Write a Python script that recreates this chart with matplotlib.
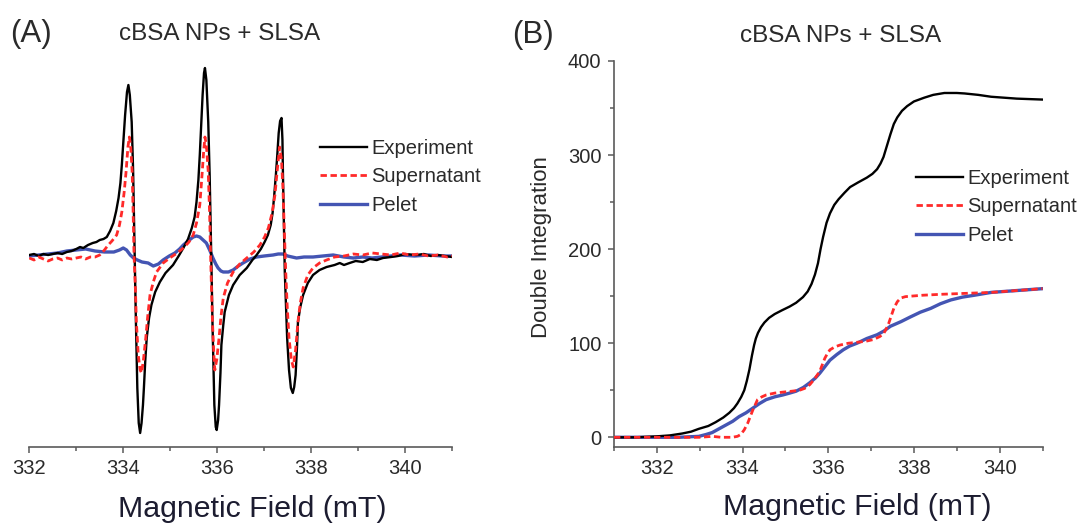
import matplotlib
matplotlib.use("Agg")
import matplotlib.pyplot as plt
from matplotlib.ticker import MultipleLocator

plt.rcParams['font.family'] = ['Liberation Sans', 'DejaVu Sans']

# ---------------- Panel A: EPR spectra (arbitrary units) ----------------
a_exp_x = [332.00, 332.10, 332.20, 332.30, 332.40, 332.50, 332.60, 332.70, 332.80, 332.90,
           333.00, 333.08, 333.15, 333.25, 333.35, 333.43, 333.50, 333.58, 333.65, 333.72,
           333.79, 333.85, 333.90, 333.94, 333.97, 334.01, 334.04, 334.08, 334.11, 334.14,
           334.18, 334.21, 334.23, 334.25, 334.27, 334.30, 334.33, 334.36, 334.39, 334.42,
           334.44, 334.47, 334.50, 334.55, 334.60, 334.68, 334.78, 334.90, 335.06, 335.18,
           335.28, 335.38, 335.46, 335.52, 335.56, 335.60, 335.63, 335.66, 335.69, 335.72,
           335.74, 335.77, 335.81, 335.84, 335.86, 335.88, 335.90, 335.92, 335.94, 335.97,
           335.99, 336.02, 336.04, 336.07, 336.09, 336.13, 336.16, 336.25, 336.34, 336.48,
           336.63, 336.75, 336.84, 336.93, 337.01, 337.08, 337.14, 337.18, 337.21, 337.25,
           337.28, 337.31, 337.34, 337.37, 337.39, 337.40, 337.42, 337.44, 337.47, 337.49,
           337.53, 337.57, 337.61, 337.64, 337.67, 337.70, 337.72, 337.77, 337.83, 337.93,
           338.04, 338.18, 338.33, 338.50, 338.61, 338.70, 338.82, 338.95, 339.10, 339.25,
           339.40, 339.53, 339.70, 339.85, 340.00, 340.24, 340.40, 340.55, 340.70, 340.85,
           341.00]
a_exp_y = [0, 1, -1, 1, 0, 1, 2, 1, 3, 4,
           6, 8, 7, 10, 12, 13, 15, 16, 18, 24,
           32, 44, 57, 72, 90, 118, 140, 163, 170, 160,
           133, 85, 33, -15, -67, -133, -168, -178, -168, -150,
           -133, -105, -83, -63, -50, -37, -27, -18, -10, -1,
           7, 16, 27, 38, 53, 75, 100, 130, 160, 182,
           187, 175, 133, 80, 33, -15, -67, -110, -150, -172,
           -175, -165, -150, -118, -90, -70, -57, -40, -30, -20,
           -13, -5, 0, 6, 13, 20, 30, 42, 57, 80,
           100, 122, 134, 137, 115, 83, 35, -17, -55, -83,
           -115, -133, -138, -132, -120, -92, -67, -52, -40, -28,
           -20, -15, -12, -10, -8, -10, -8, -6, -7, -4,
           -5, -3, -2, -1, 1, 0, 1, -1, 0, -1,
           -2]

a_sup_x = [332.00, 332.10, 332.20, 332.30, 332.40, 332.50, 332.60, 332.70, 332.80, 332.90,
           333.00, 333.10, 333.20, 333.30, 333.40, 333.50, 333.60, 333.68, 333.76, 333.86,
           333.92, 333.97, 334.02, 334.06, 334.10, 334.13, 334.16, 334.19, 334.21, 334.23,
           334.26, 334.28, 334.32, 334.36, 334.39, 334.43, 334.48, 334.52, 334.57, 334.64,
           334.71, 334.85, 334.99, 335.15, 335.28, 335.40, 335.49, 335.56, 335.63, 335.67,
           335.71, 335.74, 335.77, 335.81, 335.84, 335.86, 335.88, 335.90, 335.93, 335.95,
           335.99, 336.04, 336.08, 336.13, 336.22, 336.34, 336.48, 336.63, 336.78, 336.91,
           337.01, 337.09, 337.17, 337.23, 337.28, 337.33, 337.37, 337.40, 337.43, 337.46,
           337.49, 337.53, 337.58, 337.62, 337.67, 337.72, 337.77, 337.83, 337.93, 338.04,
           338.18, 338.33, 338.50, 338.70, 338.90, 339.10, 339.30, 339.50, 339.70, 339.90,
           340.10, 340.30, 340.50, 340.70, 340.90, 341.00]
a_sup_y = [-3, -5, -2, -4, -6, -4, -3, -5, -3, -4,
           -3, -2, -4, -2, -2, 0, 5, 10, 14, 20,
           30, 43, 63, 83, 108, 118, 108, 83, 45, 0,
           -35, -67, -100, -115, -118, -105, -83, -62, -40, -27,
           -17, -8, -3, 2, 7, 13, 20, 32, 50, 75,
           102, 118, 110, 83, 40, 0, -35, -67, -100, -115,
           -105, -83, -62, -43, -28, -17, -9, -3, 3, 10,
           18, 27, 42, 60, 85, 108, 95, 67, 25, -17,
           -50, -83, -105, -112, -95, -67, -48, -33, -20, -13,
           -8, -5, -2, -1, 1, 0, 2, 1, 0, 2,
           0, 1, -1, 0, -2, -1]

a_pel_x = [332.00, 332.20, 332.40, 332.60, 332.80, 333.00, 333.20, 333.40, 333.60, 333.80,
           333.92, 334.00, 334.07, 334.15, 334.22, 334.30, 334.40, 334.53, 334.64, 334.75,
           334.85, 334.98, 335.10, 335.20, 335.28, 335.38, 335.49, 335.56, 335.63, 335.70,
           335.77, 335.84, 335.91, 335.97, 336.02, 336.08, 336.13, 336.24, 336.34, 336.45,
           336.55, 336.70, 336.84, 337.00, 337.19, 337.30, 337.40, 337.50, 337.69, 337.85,
           338.04, 338.25, 338.47, 338.70, 338.90, 339.10, 339.30, 339.50, 339.70, 339.90,
           340.20, 340.50, 340.80, 341.00]
a_pel_y = [-1, 0, 1, 2, 4, 5, 6, 4, 3, 3,
           5, 7, 5, 0, -3, -5, -7, -8, -11, -9,
           -5, -1, 2, 6, 10, 14, 18, 19, 18, 15,
           12, 5, -3, -9, -13, -16, -17, -17, -15, -11,
           -8, -4, -2, -1, 0, 1, 1, -1, -3, -2,
           -2, -1, 0, -2, -3, -2, -3, -2, -1, 0,
           -1, 0, -1, -1]

# ---------------- Panel B: double integration ----------------
b_exp_x = [331.0, 331.5, 332.0, 332.3, 332.59, 332.8, 332.98, 333.2, 333.37, 333.55,
           333.69, 333.8, 333.88, 333.97, 334.04, 334.1, 334.16, 334.22, 334.27, 334.31,
           334.36, 334.43, 334.51, 334.62, 334.75, 334.92, 335.10, 335.25, 335.41, 335.52,
           335.61, 335.69, 335.76, 335.82, 335.88, 335.96, 336.04, 336.14, 336.24, 336.38,
           336.51, 336.70, 336.90, 337.03, 337.14, 337.22, 337.29, 337.37, 337.45, 337.53,
           337.61, 337.72, 337.84, 338.0, 338.24, 338.45, 338.71, 339.0, 339.18, 339.5,
           339.8, 340.1, 340.4, 340.7, 341.0]
b_exp_y = [0, 0, 1, 2, 4, 6, 9, 12, 16, 21,
           26, 31, 36, 43, 50, 60, 72, 87, 98, 105,
           111, 117, 122, 127, 131, 135, 139, 143, 149, 155,
           163, 173, 185, 200, 213, 228, 238, 247, 253, 260,
           266, 271, 276, 280, 285, 291, 298, 310, 322, 333,
           340, 347, 352, 357, 361, 364, 366, 366, 365.5, 364,
           362, 361, 360, 359.5, 359]

b_sup_x = [331.0, 331.5, 332.0, 332.5, 333.0, 333.3, 333.5, 333.76, 333.88, 333.96,
           334.04, 334.12, 334.18, 334.24, 334.30, 334.35, 334.45, 334.55, 334.75, 334.94,
           335.15, 335.33, 335.45, 335.57, 335.68, 335.8, 335.86, 335.92, 335.98, 336.04,
           336.15, 336.27, 336.47, 336.67, 336.87, 337.06, 337.2, 337.29, 337.35, 337.41,
           337.47, 337.53, 337.61, 337.69, 337.8, 337.92, 338.2, 338.63, 339.2, 339.8,
           340.4, 341.0]
b_sup_y = [0, 0, 0, 0, 0, 1, 0, 0, 1, 3,
           8, 15, 22, 29, 35, 40, 43, 45, 47, 48,
           49, 50, 52, 56, 62, 70, 77, 84, 89, 93,
           96, 98, 100, 101, 102, 104, 107, 110, 115, 121,
           129, 137, 144, 148, 149.5, 150, 151, 152, 153, 154,
           156, 158]

b_pel_x = [331.0, 331.5, 332.0, 332.5, 332.98, 333.15, 333.29, 333.45, 333.61, 333.77,
           333.92, 334.08, 334.24, 334.4, 334.55, 334.75, 334.94, 335.1, 335.25, 335.42,
           335.57, 335.7, 335.8, 335.92, 336.04, 336.2, 336.35, 336.5, 336.67, 336.9,
           337.14, 337.3, 337.45, 337.7, 337.92, 338.15, 338.39, 338.62, 338.86, 339.13,
           339.41, 339.8, 340.4, 341.0]
b_pel_y = [0, 0, 0, 0, 1, 3, 5, 9, 13, 17,
           22, 26, 31, 36, 40, 43, 45, 47, 49, 53,
           58, 63, 68, 75, 82, 88, 93, 97, 100, 105,
           109, 113, 118, 123, 128, 133, 137, 142, 146, 149,
           151, 154, 156, 158]

series_labels = ["Experiment", "Supernatant", "Pelet"]
title_text = "cBSA NPs + SLSA"
xlabel_text = "Magnetic Field (mT)"
ylabel_b = "Double Integration"
b_yticks = [0, 100, 200, 300, 400]
x_major = [332, 334, 336, 338, 340]

# ---------------- styling ----------------
W, H = 1086, 527
BLACK = "#000000"
RED = "#ff2a2a"
BLUE = "#4455b3"
AXC = "#5a5a5a"
TXT = "#2a2a2a"

fig = plt.figure(figsize=(W / 100, H / 100), dpi=100)

def fx(px):
    return px / W

def fy(py):
    return 1 - py / H

axA = fig.add_axes([fx(29.3), fy(446.7), fx(452 - 29.3), fy(61) - fy(446.7)])
axB = fig.add_axes([fx(614), fy(446.7), fx(1042.5 - 614), fy(61) - fy(446.7)])

def style_lines(ax, ex, ey, sx, sy, px_, py_):
    ax.plot(ex, ey, color=BLACK, lw=1.7, label=series_labels[0], zorder=3)
    ax.plot(sx, sy, color=RED, lw=2.0, label=series_labels[1], zorder=4,
            linestyle=(0, (2.3, 1.3)))
    ax.plot(px_, py_, color=BLUE, lw=2.4, label=series_labels[2], zorder=2)

style_lines(axA, a_exp_x, a_exp_y, a_sup_x, a_sup_y, a_pel_x, a_pel_y)
style_lines(axB, b_exp_x, b_exp_y, b_sup_x, b_sup_y, b_pel_x, b_pel_y)

# Panel A axes
axA.set_xlim(332, 341)
axA.set_ylim(-191.7, 194)
for s in ["top", "right", "left"]:
    axA.spines[s].set_visible(False)
axA.set_yticks([])
# Panel B axes
axB.set_xlim(331, 341)
axB.set_ylim(-10, 400)
for s in ["top", "right"]:
    axB.spines[s].set_visible(False)
axB.set_yticks(b_yticks)
axB.yaxis.set_minor_locator(MultipleLocator(50))

for ax in (axA, axB):
    ax.set_xticks(x_major)
    ax.xaxis.set_minor_locator(MultipleLocator(1))
    for s in ax.spines.values():
        s.set_color(AXC)
        s.set_linewidth(1.2)
    ax.tick_params(which="major", direction="out", length=4.5, width=1.1,
                   color=AXC, labelsize=14.5, labelcolor=TXT, pad=4.5)
    ax.tick_params(which="minor", direction="out", length=3.2, width=1.1, color=AXC)
    ax.patch.set_alpha(0)

# legends
fs_leg = 14.5
for ax, anchor in ((axA, (fx(320), fy(139))), (axB, (fx(916), fy(169)))):
    ax.legend(loc="upper left", bbox_to_anchor=anchor, bbox_transform=fig.transFigure,
              frameon=False, fontsize=fs_leg, handlelength=2.35, handletextpad=0.2,
              labelspacing=0.47, borderpad=0, borderaxespad=0, labelcolor=TXT)

# titles, panel letters, axis labels
fig.text(fx(220), fy(34), title_text, ha="center", va="center", fontsize=17.5, color=TXT)
fig.text(fx(841), fy(36), title_text, ha="center", va="center", fontsize=17.5, color=TXT)
fig.text(fx(31), fy(34), "(A)", ha="center", va="center", fontsize=22.5, color=TXT)
fig.text(fx(533), fy(35), "(B)", ha="center", va="center", fontsize=22.5, color=TXT)
fig.text(fx(252.5), fy(517), xlabel_text, ha="center", va="baseline", fontsize=21.8,
         color="#1c1c30")
fig.text(fx(857), fy(515), xlabel_text, ha="center", va="baseline", fontsize=21.8,
         color="#1c1c30")
fig.text(fx(541), fy(247), ylabel_b, ha="center", va="center", rotation=90,
         fontsize=16, color=TXT)

fig.savefig("out.png", dpi=100)
